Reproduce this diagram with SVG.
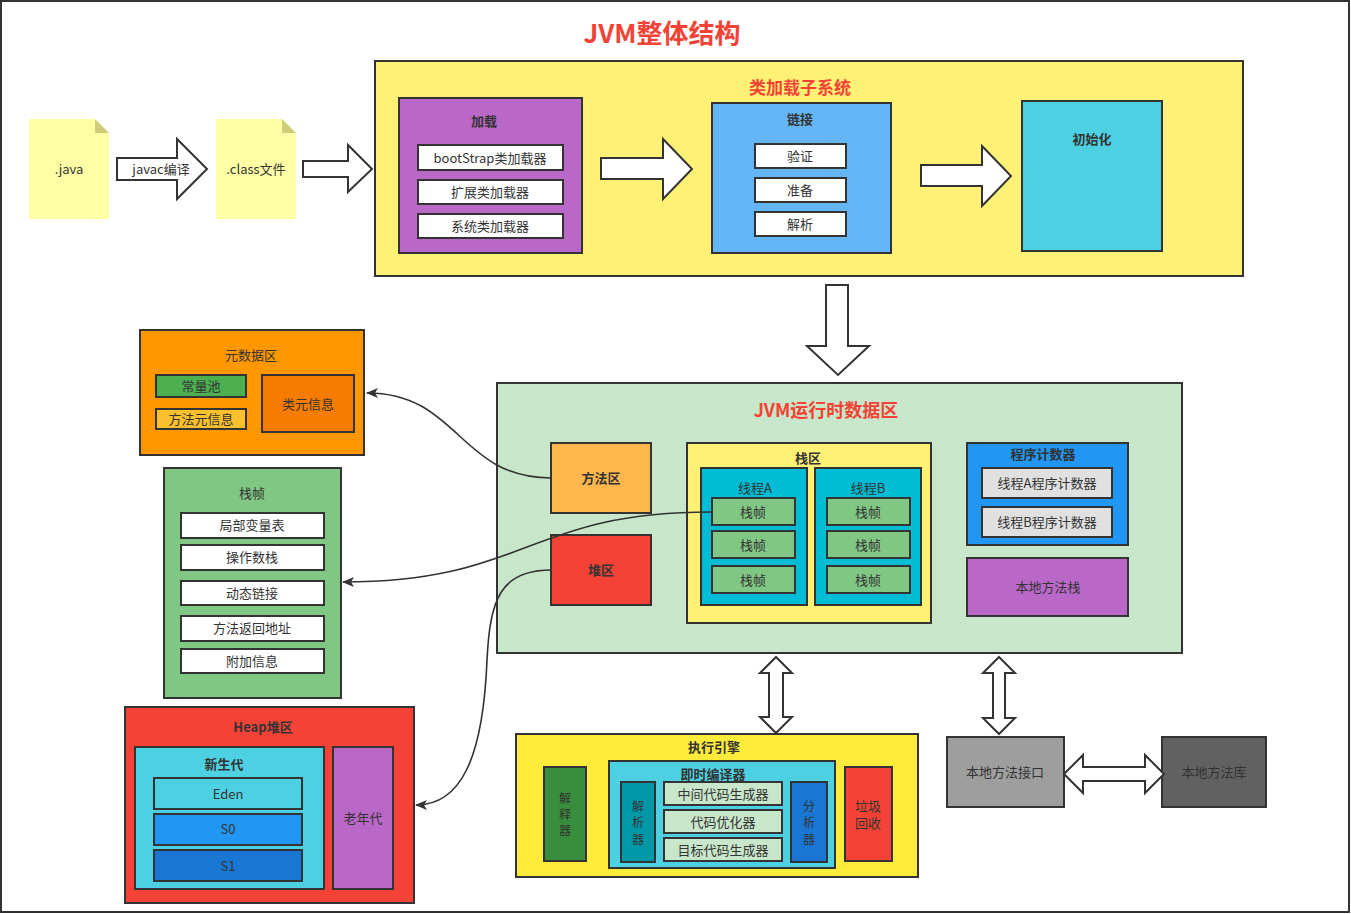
<svg xmlns="http://www.w3.org/2000/svg" width="1351" height="914" viewBox="0 0 1351 914">
<style>
text{font-family:"Noto Sans CJK SC","Liberation Sans",sans-serif;font-size:13px;fill:#333;text-anchor:middle;dominant-baseline:central;transform:translateY(-1px)}
.b{font-weight:bold}
.red{fill:#F44336;font-weight:bold}
.v{font-size:12px}
.box{stroke:#333;stroke-width:2}
.wa{fill:#fff;stroke:#333;stroke-width:2;stroke-linejoin:miter}
.conn{fill:none;stroke:#333;stroke-width:1.6}
</style>
<defs>
<marker id="ah" markerWidth="12" markerHeight="10" refX="11" refY="5" orient="auto" markerUnits="userSpaceOnUse">
<path d="M0,0 L12,5 L0,10 L3,5 Z" fill="#333"/>
</marker>
</defs>
<rect x="1" y="1" width="1348" height="911" fill="#fff" stroke="#333" stroke-width="2"/>
<text x="662" y="32" class="red" style="font-size:26px">JVM整体结构</text>

<g id="java">
<path d="M29,119 H95 L109,133 V219 H29 Z" fill="#FFFFA6"/>
<path d="M95,119 L109,133 H95 Z" fill="#CFCC7A"/>
<text x="69" y="169">.java</text>
</g>
<g id="classfile">
<path d="M216,119 H282 L296,133 V219 H216 Z" fill="#FFFFA6"/>
<path d="M282,119 L296,133 H282 Z" fill="#CFCC7A"/>
<text x="256" y="169">.class文件</text>
</g>

<g id="classloader">
<rect x="375" y="61" width="868" height="215" fill="#FFF176" class="box"/>
<text x="800" y="87" class="red" style="font-size:17px">类加载子系统</text>
</g>
<g id="load">
<rect x="399" y="98" width="183" height="155" fill="#BA68C8" class="box"/>
<text x="484" y="121" class="b">加载</text>
<rect x="418" y="145" width="145" height="25" fill="#fff" class="box"/>
<text x="490" y="158">bootStrap类加载器</text>
<rect x="418" y="180" width="145" height="24" fill="#fff" class="box"/>
<text x="490" y="192">扩展类加载器</text>
<rect x="418" y="214" width="145" height="24" fill="#fff" class="box"/>
<text x="490" y="226">系统类加载器</text>
</g>
<g id="link">
<rect x="712" y="103" width="179" height="150" fill="#64B5F6" class="box"/>
<text x="800" y="119" class="b">链接</text>
<rect x="755" y="144" width="91" height="24" fill="#fff" class="box"/>
<text x="800" y="156">验证</text>
<rect x="755" y="178" width="91" height="24" fill="#fff" class="box"/>
<text x="800" y="190">准备</text>
<rect x="755" y="212" width="91" height="24" fill="#fff" class="box"/>
<text x="800" y="224">解析</text>
</g>
<g id="init">
<rect x="1022" y="101" width="140" height="150" fill="#4DD0E1" class="box"/>
<text x="1092" y="139" class="b">初始化</text>
</g>

<g id="runtime">
<rect x="497" y="383" width="685" height="270" fill="#C8E6C9" class="box"/>
<text x="826" y="410" class="red" style="font-size:18px">JVM运行时数据区</text>
</g>
<g id="methodarea">
<rect x="551" y="443" width="100" height="70" fill="#FFB74D" class="box"/>
<text x="601" y="478" class="b">方法区</text>
</g>
<g id="heaparea">
<rect x="551" y="535" width="100" height="70" fill="#F44336" class="box"/>
<text x="601" y="570" class="b">堆区</text>
</g>
<g id="stackarea">
<rect x="687" y="443" width="244" height="180" fill="#FFF176" class="box"/>
<text x="808" y="458" class="b">栈区</text>
<rect x="701" y="468" width="106" height="137" fill="#00BCD4" class="box"/>
<text x="755" y="488">线程A</text>
<rect x="712" y="498" width="83" height="27" fill="#81C784" class="box"/>
<text x="753" y="512">栈帧</text>
<rect x="712" y="531" width="83" height="27" fill="#81C784" class="box"/>
<text x="753" y="545">栈帧</text>
<rect x="712" y="566" width="83" height="27" fill="#81C784" class="box"/>
<text x="753" y="580">栈帧</text>
<rect x="815" y="468" width="106" height="137" fill="#00BCD4" class="box"/>
<text x="868" y="488">线程B</text>
<rect x="827" y="498" width="83" height="27" fill="#81C784" class="box"/>
<text x="868" y="512">栈帧</text>
<rect x="827" y="531" width="83" height="27" fill="#81C784" class="box"/>
<text x="868" y="545">栈帧</text>
<rect x="827" y="566" width="83" height="27" fill="#81C784" class="box"/>
<text x="868" y="580">栈帧</text>
</g>
<g id="pc">
<rect x="967" y="443" width="161" height="102" fill="#2196F3" class="box"/>
<text x="1043" y="454" class="b">程序计数器</text>
<rect x="982" y="468" width="130" height="30" fill="#E0E0E0" class="box"/>
<text x="1047" y="483">线程A程序计数器</text>
<rect x="982" y="507" width="130" height="30" fill="#E0E0E0" class="box"/>
<text x="1047" y="522">线程B程序计数器</text>
</g>
<g id="nativestack">
<rect x="967" y="558" width="161" height="58" fill="#BA68C8" class="box"/>
<text x="1048" y="587">本地方法栈</text>
</g>

<g id="metadata">
<rect x="140" y="330" width="224" height="125" fill="#FF9800" class="box"/>
<text x="251" y="355">元数据区</text>
<rect x="156" y="375" width="90" height="22" fill="#4CAF50" class="box"/>
<text x="201" y="386">常量池</text>
<rect x="156" y="409" width="90" height="20" fill="#FBC02D" class="box"/>
<text x="201" y="419">方法元信息</text>
<rect x="262" y="375" width="92" height="57" fill="#F57C00" class="box"/>
<text x="308" y="404">类元信息</text>
</g>
<g id="frame">
<rect x="164" y="468" width="177" height="230" fill="#81C784" class="box"/>
<text x="252" y="493">栈帧</text>
<rect x="181" y="513" width="143" height="25" fill="#fff" class="box"/>
<text x="252" y="525">局部变量表</text>
<rect x="181" y="545" width="143" height="25" fill="#fff" class="box"/>
<text x="252" y="557">操作数栈</text>
<rect x="181" y="581" width="143" height="24" fill="#fff" class="box"/>
<text x="252" y="593">动态链接</text>
<rect x="181" y="616" width="143" height="25" fill="#fff" class="box"/>
<text x="252" y="628">方法返回地址</text>
<rect x="181" y="649" width="143" height="24" fill="#fff" class="box"/>
<text x="252" y="661">附加信息</text>
</g>
<g id="heap">
<rect x="125" y="707" width="289" height="196" fill="#F44336" class="box"/>
<text x="263" y="727" class="b">Heap堆区</text>
<rect x="135" y="747" width="189" height="142" fill="#4DD0E1" class="box"/>
<text x="224" y="764" class="b">新生代</text>
<rect x="154" y="778" width="148" height="31" fill="#4DD0E1" class="box"/>
<text x="228" y="794">Eden</text>
<rect x="154" y="814" width="148" height="31" fill="#2196F3" class="box"/>
<text x="228" y="829">S0</text>
<rect x="154" y="850" width="148" height="31" fill="#1976D2" class="box"/>
<text x="228" y="866">S1</text>
<rect x="333" y="747" width="60" height="142" fill="#BA68C8" class="box"/>
<text x="363" y="818">老年代</text>
</g>

<g id="engine">
<rect x="516" y="734" width="402" height="143" fill="#FFEB3B" class="box"/>
<text x="714" y="747" class="b">执行引擎</text>
<rect x="544" y="767" width="42" height="94" fill="#388E3C" class="box"/>
<text x="565" y="798" class="v">解</text><text x="565" y="814" class="v">释</text><text x="565" y="830" class="v">器</text>
<rect x="609" y="761" width="226" height="107" fill="#4DD0E1" class="box"/>
<text x="713" y="774" class="b">即时编译器</text>
<rect x="621" y="782" width="34" height="80" fill="#0097A7" class="box"/>
<text x="638" y="806" class="v">解</text><text x="638" y="822" class="v">析</text><text x="638" y="839" class="v">器</text>
<rect x="664" y="782" width="118" height="23" fill="#C8E6C9" class="box"/>
<text x="723" y="794">中间代码生成器</text>
<rect x="664" y="810" width="118" height="23" fill="#C8E6C9" class="box"/>
<text x="723" y="822">代码优化器</text>
<rect x="664" y="838" width="118" height="23" fill="#C8E6C9" class="box"/>
<text x="723" y="850">目标代码生成器</text>
<rect x="791" y="782" width="36" height="80" fill="#1976D2" class="box"/>
<text x="809" y="806" class="v">分</text><text x="809" y="822" class="v">析</text><text x="809" y="839" class="v">器</text>
<rect x="845" y="767" width="47" height="94" fill="#F44336" class="box"/>
<text x="868" y="806">垃圾</text><text x="868" y="823">回收</text>
</g>
<g id="jni">
<rect x="947" y="737" width="117" height="70" fill="#9E9E9E" class="box"/>
<text x="1005" y="772">本地方法接口</text>
</g>
<g id="nativelib">
<rect x="1162" y="737" width="104" height="70" fill="#616161" class="box"/>
<text x="1214" y="772">本地方法库</text>
</g>

<g id="connectors">
<path class="wa" d="M117,158 H177 V139 L207,169 L177,199 V180 H117 Z"/>
<text x="161" y="169">javac编译</text>
<path class="wa" d="M303,161 H348 V145 L372,169 L348,192 V177 H303 Z"/>
<path class="wa" d="M601,158 H663 V139 L692,169 L663,199 V179 H601 Z"/>
<path class="wa" d="M921,165 H982 V146 L1011,176 L982,206 V186 H921 Z"/>
<path class="wa" d="M826,285 H848 V346 H869 L838,375 L807,346 H826 Z"/>
<path class="wa" d="M776,657 L792,673 H783 V717 H792 L776,733 L760,717 H769 V673 H760 Z"/>
<path class="wa" d="M999,657 L1015,673 H1005 V718 H1015 L999,734 L983,718 H993 V673 H983 Z"/>
<path class="wa" d="M1064,774 L1083,755 V767 H1145 V755 L1164,774 L1145,793 V781 H1083 V793 Z"/>
<path class="conn" d="M551,478 C459,478 459,393 367,393" marker-end="url(#ah)"/>
<path class="conn" d="M711,512 C527,512 527,582 343,582" marker-end="url(#ah)"/>
<path class="conn" d="M551,570 C500,570 490,600 487,660 C483,760 460,805 416,805" marker-end="url(#ah)"/>
</g>
</svg>
